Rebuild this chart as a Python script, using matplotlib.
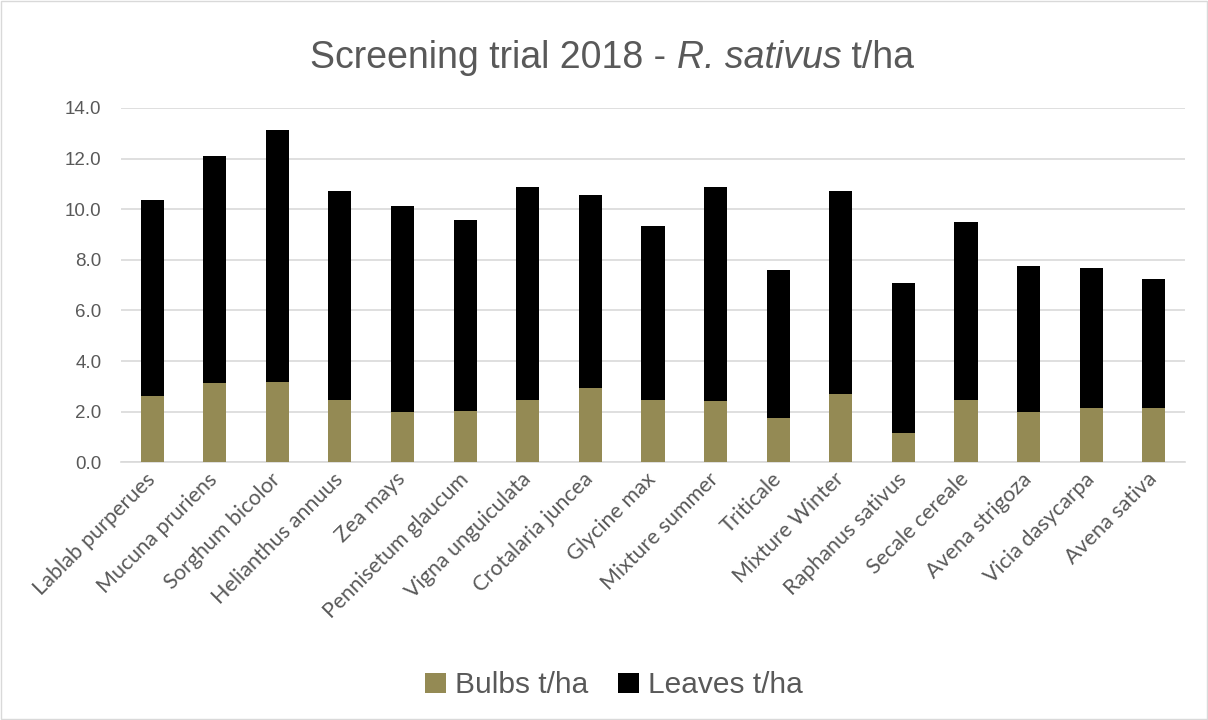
import numpy as np
import matplotlib.pyplot as plt
from matplotlib.patches import Rectangle

plt.rcParams['font.family'] = ['Liberation Sans', 'DejaVu Sans']

# categorias e valores
species = ['Lablab purperues', 'Mucuna pruriens', 'Sorghum bicolor', 'Helianthus annuus',
           'Zea mays', 'Pennisetum glaucum', 'Vigna unguiculata', 'Crotalaria juncea',
           'Glycine max', 'Mixture summer', 'Triticale', 'Mixture Winter',
           'Raphanus sativus', 'Secale cereale', 'Avena strigoza', 'Vicia dasycarpa',
           'Avena sativa']
bulbs = [2.62, 3.15, 3.19, 2.47, 2.00, 2.02, 2.47, 2.94,
         2.47, 2.44, 1.74, 2.70, 1.17, 2.47, 1.98, 2.15, 2.15]
totals = [10.37, 12.10, 13.12, 10.70, 10.12, 9.56, 10.88, 10.55,
          9.35, 10.89, 7.58, 10.70, 7.09, 9.50, 7.75, 7.67, 7.26]
leaves = [t - b for t, b in zip(totals, bulbs)]

grey = '#595959'
fig = plt.figure(figsize=(12.08, 7.2), dpi=100)
ax = fig.add_axes([0.1, 0.358, 0.881, 0.492])

x = np.arange(len(species))
ax.bar(x, bulbs, width=0.37, color='#948A54', label='Bulbs t/ha', zorder=3)
ax.bar(x, leaves, width=0.37, bottom=bulbs, color='black', label='Leaves t/ha', zorder=3)

ax.set_xlim(-0.5, len(species) - 0.5)
ax.set_ylim(0, 14)
ax.set_yticks(np.arange(0, 14.1, 2))
ax.set_yticklabels([f'{v:.1f}' for v in np.arange(0, 14.1, 2)])
ax.yaxis.grid(True, color='#D9D9D9', linewidth=1.2, zorder=0)
ax.set_axisbelow(True)
for s in ['top', 'right', 'left']:
    ax.spines[s].set_visible(False)
ax.spines['bottom'].set_color('#D9D9D9')
ax.spines['bottom'].set_linewidth(1.2)
ax.tick_params(axis='both', length=0, colors=grey, labelsize=13.5)
ax.tick_params(axis='y', pad=14)
ax.tick_params(axis='x', pad=10)
ax.set_xticks(x)
ax.set_xticklabels(species, rotation=45, ha='right', va='center', rotation_mode='anchor',
                   family=['Lato', 'DejaVu Sans'], fontsize=15.5)

# titulo com parte em italico, centrado
fs_title = 27
parts = [('Screening trial 2018 - ', 'normal'), ('R. sativus', 'italic'), (' t/ha', 'normal')]
texts = [fig.text(0, 0.92, p, ha='left', va='center', fontsize=fs_title, color=grey, style=st)
         for p, st in parts]
fig.canvas.draw()
r = fig.canvas.get_renderer()
widths = [t.get_window_extent(r).width / fig.bbox.width for t in texts]
x0 = 0.507 - sum(widths) / 2
for t, w in zip(texts, widths):
    t.set_x(x0)
    x0 += w

leg = fig.legend(loc='center', bbox_to_anchor=(0.508, 0.048), ncol=2, frameon=False,
                 fontsize=21.5, handlelength=0.7, handleheight=0.7, handletextpad=0.3,
                 columnspacing=1.0)
for txt in leg.get_texts():
    txt.set_color(grey)

fig.patches.append(Rectangle((0.001, 0.001), 0.998, 0.997, transform=fig.transFigure,
                             fill=False, edgecolor='#D9D9D9', linewidth=1))

fig.savefig('out.png', dpi=100)
